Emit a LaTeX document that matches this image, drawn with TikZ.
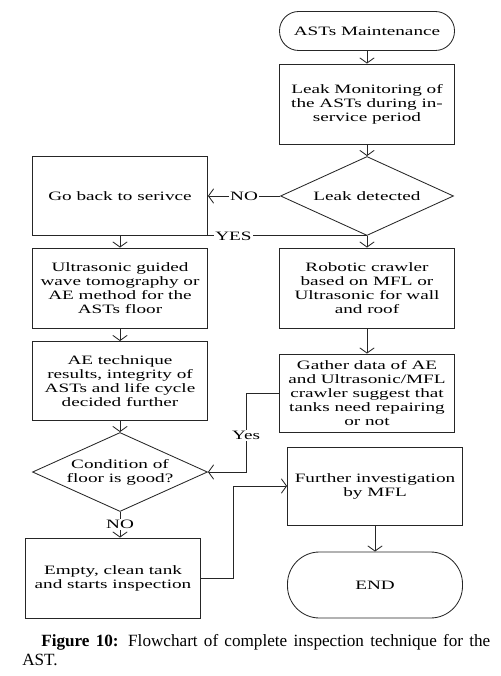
\documentclass[tikz,border=0pt]{standalone}
\usepackage{fontspec}
\setmainfont{Liberation Serif}
\newfontfamily\chartfont{Liberation Serif}[FakeStretch=1.5]
\usetikzlibrary{shapes.geometric,arrows.meta}
\begin{document}
\begin{tikzpicture}[
        font = \chartfont\fontsize{9.1}{10}\selectfont,
        stepbox/.style = {draw = black!85, line width = 0.6pt, minimum width = 4.375cm,
            minimum height = 2cm, inner sep = 1pt, align = center},
        termbox/.style = {stepbox, minimum height = 0.975cm, rounded corners = 0.48cm},
        decision/.style = {draw = black!85, line width = 0.6pt, diamond, aspect = 2.2,
            minimum width = 4.325cm, minimum height = 1.975cm, inner sep = 0pt, align = center},
        link/.style = {draw = black!85, line width = 0.6pt},
        arrow/.style = {link, -{Straight Barb[length = 0.13cm, width = 0.36cm]}},
        lbl/.style = {fill = white, inner sep = 1pt}
    ]
        \useasboundingbox (0, 0) rectangle (12.5, -16.9);
        % right column
        \node[termbox] (start) at (9.175, -0.775) {ASTs Maintenance};
        \node[stepbox] (monitor) at (9.175, -2.6) {Leak Monitoring of\\the ASTs during in-\\service period};
        \node[decision] (leak) at (9.175, -4.9) {Leak detected};
        \node[stepbox] (robot) at (9.175, -7.2) {Robotic crawler\\based on MFL or\\Ultrasonic for wall\\and roof};
        \node[stepbox, minimum height = 1.95cm] (gather) at (9.175, -9.825) {Gather data of AE\\and Ultrasonic/MFL\\crawler suggest that\\tanks need repairing\\or not};
        \node[stepbox, minimum height = 1.95cm] (further) at (9.375, -12.15) {Further investigation\\by MFL};
        \node[termbox, minimum height = 1.65cm, rounded corners = 0.8cm] (end) at (9.375, -14.625) {END};
        % left column
        \node[stepbox, minimum height = 1.975cm] (goback) at (3.0, -4.9) {Go back to serivce};
        \node[stepbox] (ultra) at (3.0, -7.2) {Ultrasonic guided\\wave tomography or\\AE method for the\\ASTs floor};
        \node[stepbox, minimum height = 1.975cm] (aetech) at (3.0, -9.525) {AE technique\\results, integrity of\\ASTs and life cycle\\decided further};
        \node[decision, minimum width = 4.375cm] (cond) at (3.0, -11.8) {Condition of\\floor is good?};
        \node[stepbox] (empty) at (2.825, -14.45) {Empty, clean tank\\and starts inspection};
        % connectors
        \draw[arrow] (start) -- (monitor);
        \draw[arrow] (monitor) -- (leak);
        \draw[arrow] (leak.west) -- node[lbl] {NO} (goback.east);
        \draw[link] (leak.south) -- node[lbl, pos = 0.84] {YES} (goback.south east);
        \draw[arrow] (leak.south) -- (robot.north);
        \draw[arrow] (goback) -- (ultra);
        \draw[arrow] (ultra) -- (aetech);
        \draw[arrow] (aetech) -- (cond);
        \draw[arrow] (robot) -- (gather);
        \draw[arrow] (gather.west) -- ++(-0.825, 0) |- node[lbl, pos = 0.27] {Yes} (cond.east);
        \draw[arrow] (cond.south) -- node[lbl] {NO} (cond.south |- empty.north);
        \draw[arrow] (empty.east) -- ++(0.8, 0) |- (further.west);
        \draw[arrow] (further) -- (end);
        % caption
        \node[anchor = north west, text width = 11.7cm, align = justify, inner sep = 0pt,
            font = \rmfamily\fontsize{12.2}{13.5}\selectfont] (caption) at (0.55, -15.85)
            {\hspace*{0.475cm}\textbf{Figure 10:} Flowchart of complete inspection technique for the\linebreak AST.};
    \end{tikzpicture}
\end{document}
